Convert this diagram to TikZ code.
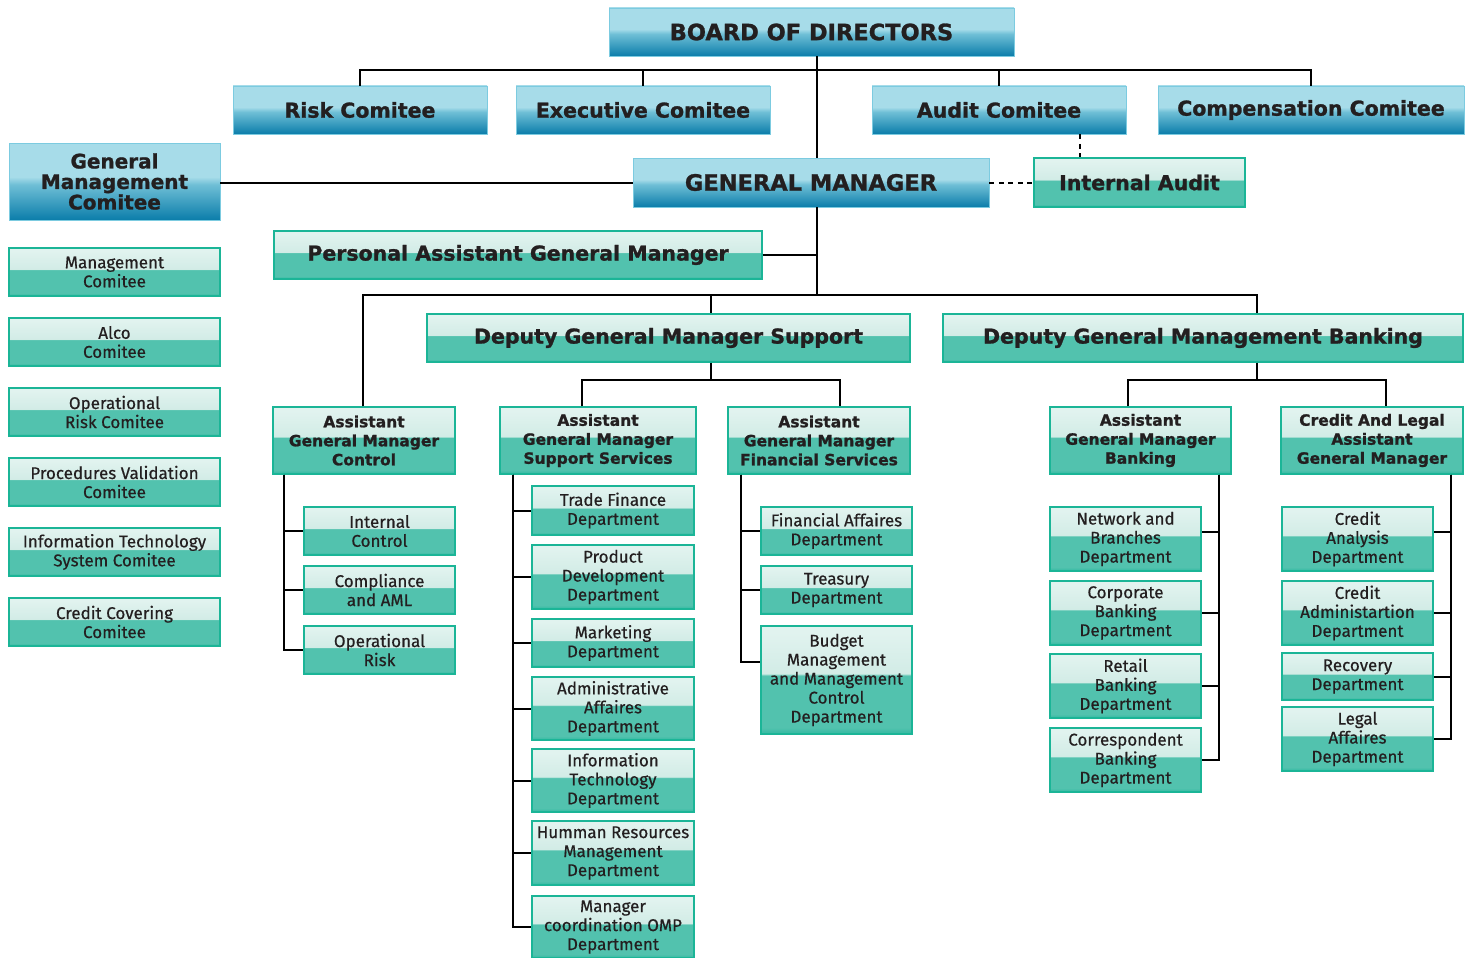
\documentclass[tikz,border=0pt]{standalone}
\usepackage{fontspec}
\setmainfont{Fira Sans}[FakeBold=0.5]
\newfontfamily\heavy{DejaVu Sans}[FakeBold=1.2]
\newfontfamily\bodyfam{Fira Sans}[FakeBold=0.5]
\definecolor{txt}{HTML}{231F20}
\definecolor{bdark}{HTML}{0B7DAA}
\definecolor{bmid}{HTML}{6FBFD6}
\definecolor{blight}{HTML}{A7DCE9}
\definecolor{bborder}{HTML}{7CCBE0}
\definecolor{tdark}{HTML}{3CBCA5}
\definecolor{tmain}{HTML}{52C2AE}
\definecolor{tlight}{HTML}{D2ECE6}
\definecolor{tlighter}{HTML}{E1F3EF}
\definecolor{tborder}{HTML}{1BB597}
\pgfdeclareverticalshading{blueshade}{100bp}{color(0bp)=(bdark); color(25bp)=(bdark); color(48bp)=(bmid); color(53bp)=(blight); color(100bp)=(blight)}
\pgfdeclareverticalshading{tealshade}{100bp}{color(0bp)=(tdark); color(26bp)=(tdark); color(28bp)=(tmain); color(52bp)=(tmain); color(53bp)=(tlight); color(72bp)=(tlighter); color(100bp)=(tlighter)}
\tikzset{
  box/.style={inner sep=0pt, align=center, text=txt},
  bluebox/.style={box, shading=blueshade, draw=bborder, line width=0.8pt},
  tealbox/.style={box, shading=tealshade, draw=tborder, line width=1.4pt},
  bigfont/.style={font=\heavy\bfseries\fontsize{22.5}{24}\selectfont},
  midfont/.style={font=\heavy\bfseries\fontsize{20.5}{21}\selectfont},
  gmcfont/.style={font=\heavy\bfseries\fontsize{20}{20.5}\selectfont},
  agmfont/.style={font=\heavy\bfseries\fontsize{15.5}{19}\selectfont},
  bodyfont/.style={font=\bodyfam\fontsize{17}{19}\selectfont},
  conn/.style={draw=black, line width=2pt},
  thinconn/.style={draw=black, line width=1.5pt},
  dashconn/.style={draw=black, line width=2pt, dash pattern=on 5pt off 4.5pt},
  dept/.style={tealbox, bodyfont, minimum width=151pt},
}
\begin{document}
\begin{tikzpicture}[x=1pt,y=-1pt]
\useasboundingbox (0,0) rectangle (1465,958);
% coordinates
\coordinate (trunk) at (817,0);
\coordinate (busA) at (0,70);
\coordinate (busB) at (0,295);
\coordinate (iax) at (1080,0);
\coordinate (dsx) at (711,0);
\coordinate (dbx) at (1257,0);
\coordinate (busS) at (0,380);
\coordinate (asx) at (582,0);
\coordinate (afx) at (840,0);
\coordinate (abx) at (1128,0);
\coordinate (aclx) at (1386,0);
\coordinate (acx) at (363,0);

% top level
\node[bluebox, bigfont, minimum width=405pt, minimum height=48pt] (board) at (811.5,32) {BOARD OF DIRECTORS};
\node[bluebox, midfont, minimum width=254pt, minimum height=48pt] (risk) at (360,110) {Risk Comitee};
\node[bluebox, midfont, minimum width=254pt, minimum height=48pt] (exec) at (643,110) {Executive Comitee};
\node[bluebox, midfont, minimum width=254pt, minimum height=48pt] (audit) at (999,110) {Audit Comitee};
\node[bluebox, midfont, minimum width=306pt, minimum height=48pt] (comp) at (1311,110) {Compensation Comitee};
\node[bluebox, bigfont, minimum width=356pt, minimum height=49pt] (gm) at (811,182.5) {GENERAL MANAGER};
\node[tealbox, midfont, minimum width=211pt, minimum height=49pt] (ia) at (1139.5,182.5) {Internal Audit};
\node[bluebox, gmcfont, minimum width=211pt, minimum height=77pt] (gmc) at (114.5,181.5) {General\\Management\\Comitee};
\node[tealbox, midfont, minimum width=488pt, minimum height=48pt] (pagm) at (518,255) {Personal Assistant General Manager};
\node[tealbox, midfont, minimum width=483pt, minimum height=48pt] (dgms) at (668.5,338) {Deputy General Manager Support};
\node[tealbox, midfont, minimum width=520pt, minimum height=48pt] (dgmb) at (1203,338) {Deputy General Management Banking};

% left column
\node[tealbox, bodyfont, minimum width=211pt, minimum height=48pt] (mc) at (114.5,272) {Management\\Comitee};
\node[tealbox, bodyfont, minimum width=211pt, minimum height=48pt] (alco) at (114.5,342) {Alco\\Comitee};
\node[tealbox, bodyfont, minimum width=211pt, minimum height=48pt] (orc) at (114.5,412) {Operational\\Risk Comitee};
\node[tealbox, bodyfont, minimum width=211pt, minimum height=48pt] (pvc) at (114.5,482) {Procedures Validation\\Comitee};
\node[tealbox, bodyfont, minimum width=211pt, minimum height=48pt] (itsc) at (114.5,552) {Information Technology\\System Comitee};
\node[tealbox, bodyfont, minimum width=211pt, minimum height=48pt] (ccc) at (114.5,622) {Credit Covering\\Comitee};

% assistant GMs
\node[tealbox, agmfont, minimum width=182pt, minimum height=67pt] (agmc) at (364,440.5) {Assistant\\General Manager\\Control};
\node[tealbox, agmfont, minimum width=196pt, minimum height=67pt] (agms) at (598,440.5) {Assistant\\General Manager\\Support Services};
\node[tealbox, agmfont, minimum width=182pt, minimum height=67pt] (agmf) at (819,440.5) {Assistant\\General Manager\\Financial Services};
\node[tealbox, agmfont, minimum width=181pt, minimum height=67pt] (agmb) at (1140.5,440.5) {Assistant\\General Manager\\Banking};
\node[tealbox, agmfont, minimum width=182pt, minimum height=67pt] (agmcl) at (1372,440.5) {Credit And Legal\\Assistant\\General Manager};

% control children
\node[dept, minimum height=48pt] (ic) at (379.5,531) {Internal\\Control};
\node[dept, minimum height=48pt] (caml) at (379.5,590) {Compliance\\and AML};
\node[dept, minimum height=48pt] (orisk) at (379.5,650) {Operational\\Risk};

% support children
\node[dept, minimum width=162pt, minimum height=49pt] (tfd) at (613,510.5) {Trade Finance\\Department};
\node[dept, minimum width=162pt, minimum height=64pt] (pdd) at (613,577) {Product\\Development\\Department};
\node[dept, minimum width=162pt, minimum height=48pt] (mkd) at (613,643) {Marketing\\Department};
\node[dept, minimum width=162pt, minimum height=63pt] (aad) at (613,708.5) {Administrative\\Affaires\\Department};
\node[dept, minimum width=162pt, minimum height=63pt] (itd) at (613,780.5) {Information\\Technology\\Department};
\node[dept, minimum width=162pt, minimum height=64pt] (hrd) at (613,853) {Humman Resources\\Management\\Department};
\node[dept, minimum width=162pt, minimum height=62pt] (omp) at (613,927) {Manager\\coordination OMP\\Department};

% financial children
\node[dept, minimum height=48pt] (fad) at (836.5,531) {Financial Affaires\\Department};
\node[dept, minimum height=48pt] (trd) at (836.5,590) {Treasury\\Department};
\node[dept, minimum height=108pt] (bud) at (836.5,680) {Budget\\Management\\and Management\\Control\\Department};

% banking children
\node[dept, minimum height=64pt] (nbd) at (1125.5,539) {Network and\\Branches\\Department};
\node[dept, minimum height=64pt] (cbd) at (1125.5,613) {Corporate\\Banking\\Department};
\node[dept, minimum height=64pt] (rbd) at (1125.5,686) {Retail\\Banking\\Department};
\node[dept, minimum height=64pt] (cobd) at (1125.5,760) {Correspondent\\Banking\\Department};

% credit children
\node[dept, minimum height=64pt] (cad) at (1357.5,539) {Credit\\Analysis\\Department};
\node[dept, minimum height=64pt] (cadm) at (1357.5,613) {Credit\\Administartion\\Department};
\node[dept, minimum height=47pt] (rec) at (1357.5,676.5) {Recovery\\Department};
\node[dept, minimum height=64pt] (lad) at (1357.5,739) {Legal\\Affaires\\Department};

% connectors top
\draw[conn] (board.south -| trunk) -- (gm.north -| trunk);
\draw[thinconn] (risk.north) -- (risk.north |- busA) -- (busA -| comp.north) -- (comp.north);
\draw[thinconn] (exec.north) -- (exec.north |- busA);
\draw[thinconn] (audit.north) -- (audit.north |- busA);
\draw[dashconn] (audit.south -| iax) -- (ia.north -| iax);
\draw[dashconn] (gm.east) -- (ia.west);
\draw[conn] (gmc.east |- gm.west) -- (gm.west);
\draw[conn] (gm.south -| trunk) -- (busB -| trunk);
\draw[conn] (pagm.east) -- (pagm.east -| trunk);
\draw[conn] (agmc.north -| acx) -- (busB -| acx) -- (busB -| dbx) -- (dgmb.north -| dbx);
\draw[conn] (busB -| dsx) -- (dgms.north -| dsx);
\draw[conn] (dgms.south -| dsx) -- (busS -| dsx);
\draw[conn] (agms.north -| asx) -- (busS -| asx) -- (busS -| afx) -- (agmf.north -| afx);
\draw[conn] (dgmb.south -| dbx) -- (busS -| dbx);
\draw[conn] (agmb.north -| abx) -- (busS -| abx) -- (busS -| aclx) -- (agmcl.north -| aclx);

% control spine
\draw[conn] ([xshift=12pt]agmc.south west) |- (ic.west);
\draw[conn] ([xshift=12pt]agmc.south west) |- (caml.west);
\draw[conn] ([xshift=12pt]agmc.south west) |- (orisk.west);
% support spine
\foreach \n in {tfd,pdd,mkd,aad,itd,hrd,omp}
  \draw[conn] ([xshift=14pt]agms.south west) |- (\n.west);
% financial spine
\draw[conn] ([xshift=14pt]agmf.south west) |- (fad.west);
\draw[conn] ([xshift=14pt]agmf.south west) |- (trd.west);
\draw[conn] ([xshift=14pt]agmf.south west) |- ([yshift=18pt]bud.west);
% banking spine
\draw[conn] ([xshift=-13pt]agmb.south east) |- ([yshift=7pt]nbd.east);
\draw[conn] ([xshift=-13pt]agmb.south east) |- (cbd.east);
\draw[conn] ([xshift=-13pt]agmb.south east) |- (rbd.east);
\draw[conn] ([xshift=-13pt]agmb.south east) |- (cobd.east);
% credit spine
\draw[conn] ([xshift=-13pt]agmcl.south east) |- ([yshift=7pt]cad.east);
\draw[conn] ([xshift=-13pt]agmcl.south east) |- (cadm.east);
\draw[conn] ([xshift=-13pt]agmcl.south east) |- (rec.east);
\draw[conn] ([xshift=-13pt]agmcl.south east) |- (lad.east);
\end{tikzpicture}
\end{document}
